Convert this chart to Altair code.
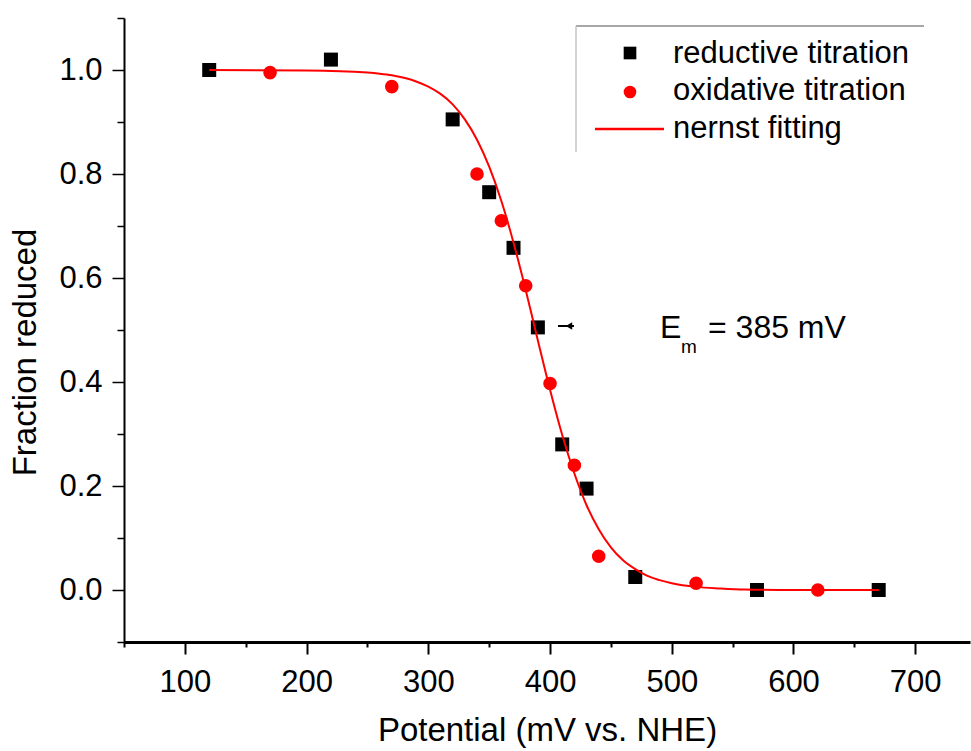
import altair as alt
import pandas as pd

# reductive titration (black squares)
red_x = [120, 220, 320, 350, 370, 390, 410, 430, 470, 570, 670]
red_y = [1.0, 1.02, 0.905, 0.765, 0.658, 0.505, 0.28, 0.195, 0.025, 0.0, 0.0]
# oxidative titration (red circles)
ox_x = [170, 270, 340, 360, 380, 400, 420, 440, 520, 620]
ox_y = [0.995, 0.968, 0.80, 0.71, 0.585, 0.397, 0.24, 0.065, 0.013, 0.0]
# nernst fitting curve
fit_x = [120, 200, 250, 260, 270, 280, 290, 300, 310, 320, 330, 340, 350, 360,
         370, 380, 390, 400, 410, 420, 430, 440, 450, 460, 470, 480, 490, 500,
         520, 540, 560, 600, 670]
fit_y = [1.0, 0.999, 0.995, 0.993, 0.990, 0.985, 0.978, 0.968, 0.954, 0.934,
         0.905, 0.866, 0.814, 0.748, 0.668, 0.577, 0.480, 0.385, 0.298, 0.224,
         0.163, 0.117, 0.082, 0.057, 0.040, 0.027, 0.019, 0.013, 0.006, 0.003,
         0.001, 0.0, 0.0]

legend_labels = ["reductive titration", "oxidative titration", "nernst fitting"]
x_ticks = list(range(50, 701, 50))
y_ticks = [round(-0.1 + 0.1 * i, 1) for i in range(13)]

FONT = "Liberation Sans"

df_red = pd.DataFrame({"x": red_x, "y": red_y})
df_ox = pd.DataFrame({"x": ox_x, "y": ox_y})
df_fit = pd.DataFrame({"x": fit_x, "y": fit_y})

xscale = alt.Scale(domain=[50, 745], nice=False, zero=False)
yscale = alt.Scale(domain=[-0.1, 1.1], nice=False, zero=False)

xaxis = alt.Axis(
    values=x_ticks, format="d",
    labelExpr="datum.value % 100 == 0 ? datum.label : ''",
    tickSize={"condition": {"test": "datum.value % 100 == 0", "value": 12}, "value": 5},
    tickWidth=2, tickColor="black", domainWidth=3, domainColor="black",
    labelFontSize=31, labelFont=FONT, labelColor="black", labelPadding=37,
    labelBaseline="alphabetic", labelFlush=False, labelOverlap=False,
    title="Potential (mV vs. NHE)", titleFontSize=33, titleFont=FONT,
    titleFontWeight="normal", titleColor="black", titleY=98,
    titleBaseline="alphabetic", grid=False,
)
yaxis = alt.Axis(
    values=y_ticks,
    labelExpr="abs(round(datum.value*10)) % 2 == 0 ? format(datum.value, '.1f') : ''",
    tickSize={"condition": {"test": "abs(round(datum.value*10)) % 2 == 0", "value": 12}, "value": 7},
    tickWidth=1.5, tickColor="black", domainWidth=2, domainColor="black",
    labelFontSize=31, labelFont=FONT, labelColor="black", labelPadding=10,
    labelFlush=False, labelOverlap=False,
    title="Fraction reduced", titleFontSize=33, titleFont=FONT,
    titleFontWeight="normal", titleColor="black", titleX=-89, titleY=334,
    titleAngle=-90, titleAlign="center", titleBaseline="alphabetic", grid=False,
)

X = alt.X("x:Q", scale=xscale, axis=xaxis)
Y = alt.Y("y:Q", scale=yscale, axis=yaxis)

circles = alt.Chart(df_ox).mark_point(
    shape="circle", filled=True, size=185, color="#ff0000", opacity=1
).encode(x=X, y=Y)
squares = alt.Chart(df_red).mark_point(
    shape="square", filled=True, size=196, color="black", opacity=1
).encode(x=X, y=Y)
fit = alt.Chart(df_fit).mark_line(
    color="#ff0000", strokeWidth=2, interpolate="monotone"
).encode(x=X, y=Y)

one = pd.DataFrame({"a": [0]})

# legend (partial frame, symbols and labels)
frame_top = alt.Chart(one).mark_rule(color="#8a8a8a", strokeWidth=1.5).encode(
    x=alt.value(452), x2=alt.value(800), y=alt.value(8))
frame_left = alt.Chart(one).mark_rule(color="#c4c4c4", strokeWidth=1.5).encode(
    x=alt.value(452), y=alt.value(8), y2=alt.value(134))
leg_sq = alt.Chart(one).mark_point(shape="square", filled=True, size=160,
                                   color="black", opacity=1).encode(
    x=alt.value(506), y=alt.value(35))
leg_ci = alt.Chart(one).mark_point(shape="circle", filled=True, size=160,
                                   color="#ff0000", opacity=1).encode(
    x=alt.value(506), y=alt.value(74))
leg_ln = alt.Chart(one).mark_rule(color="#ff0000", strokeWidth=2.5).encode(
    x=alt.value(471), x2=alt.value(540), y=alt.value(111))
leg_texts = []
for lab, yy in zip(legend_labels, [45, 82, 120]):
    leg_texts.append(
        alt.Chart(pd.DataFrame({"t": [lab]})).mark_text(
            align="left", baseline="alphabetic", fontSize=31, font=FONT,
            color="black").encode(text="t:N", x=alt.value(549), y=alt.value(yy)))

# E_m annotation
em_E = alt.Chart(pd.DataFrame({"t": ["E"]})).mark_text(
    align="left", baseline="alphabetic", fontSize=32, font=FONT, color="black"
).encode(text="t:N", x=alt.value(536), y=alt.value(320))
em_m = alt.Chart(pd.DataFrame({"t": ["m"]})).mark_text(
    align="left", baseline="alphabetic", fontSize=19, font=FONT, color="black"
).encode(text="t:N", x=alt.value(557), y=alt.value(335))
em_rest = alt.Chart(pd.DataFrame({"t": ["= 385 mV"]})).mark_text(
    align="left", baseline="alphabetic", fontSize=32, font=FONT, color="black"
).encode(text="t:N", x=alt.value(584), y=alt.value(320))
arrow_line = alt.Chart(one).mark_rule(color="black", strokeWidth=2).encode(
    x=alt.value(434), x2=alt.value(450), y=alt.value(308))
arrow_head = alt.Chart(one).mark_point(shape="triangle-left", filled=True, size=55,
                                       color="black", opacity=1).encode(
    x=alt.value(445), y=alt.value(308))

chart = alt.layer(
    circles, squares, fit,
    frame_top, frame_left, leg_sq, leg_ci, leg_ln, *leg_texts,
    em_E, em_m, em_rest, arrow_line, arrow_head,
).properties(
    width=846, height=624,
    autosize=alt.AutoSizeParams(type="none"),
    padding={"left": 124, "top": 18, "right": 1, "bottom": 109},
    background="white",
).configure_view(stroke=None)

chart.save("out.html", embed_options={"renderer": "svg", "actions": False})
